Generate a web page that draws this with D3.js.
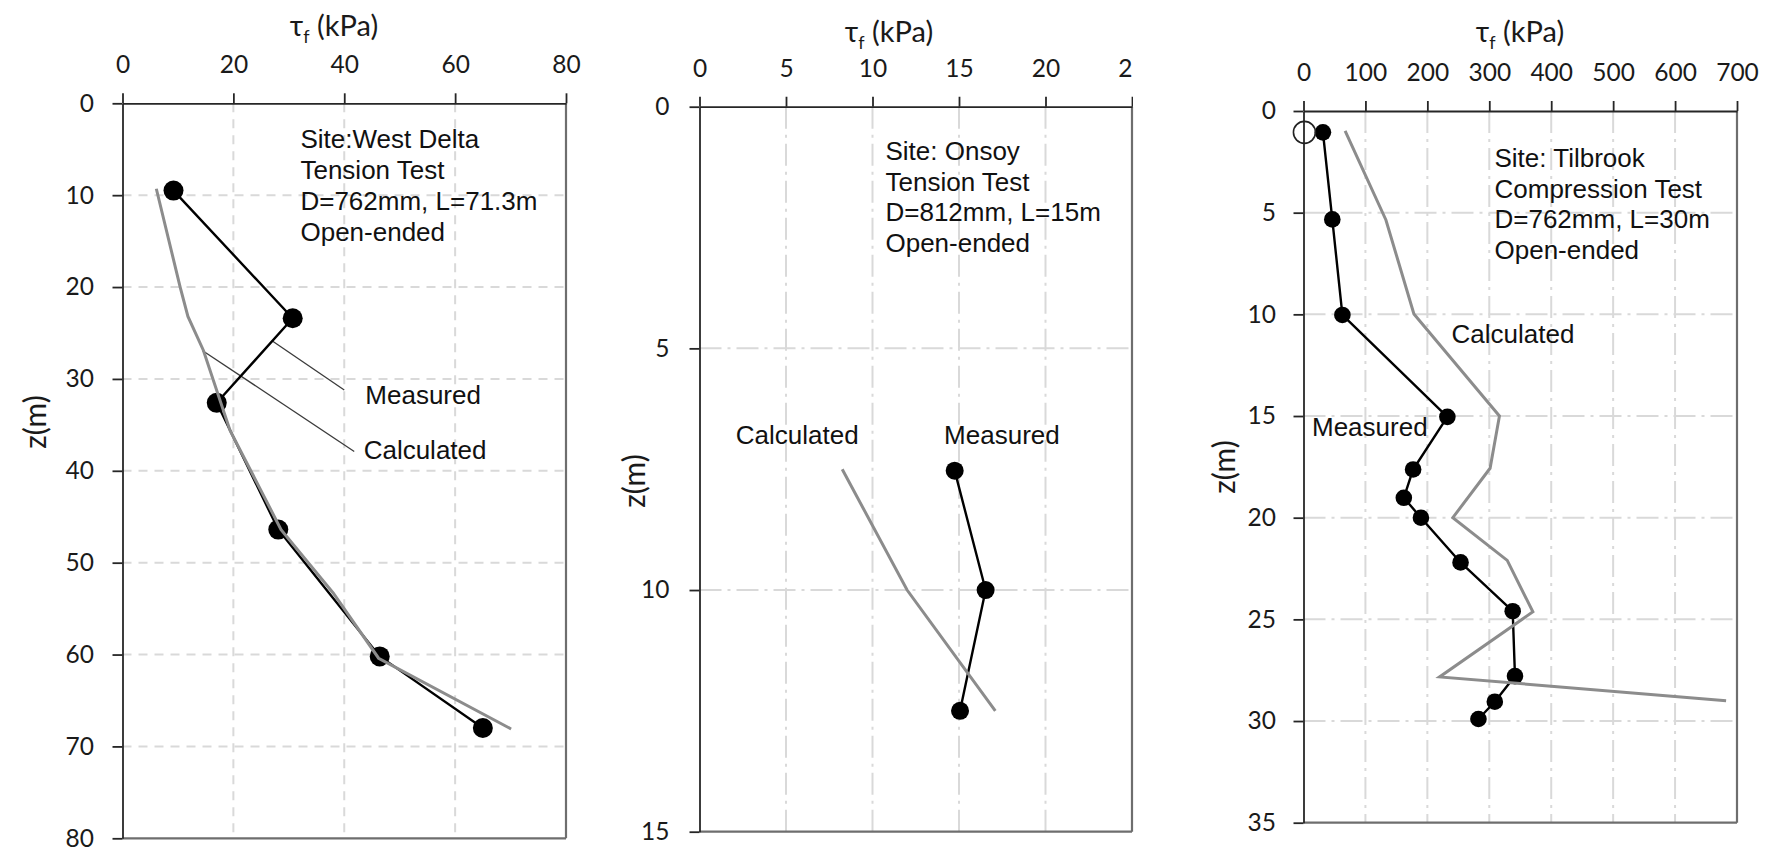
<!DOCTYPE html>
<html>
<head>
<meta charset="utf-8">
<script src="https://cdn.jsdelivr.net/npm/d3@7"></script>
<style>
  body { margin: 0; background: #fff; }
  svg { display: block; }
</style>
</head>
<body>
<svg id="chart" width="1771" height="854"></svg>
<script>
// ---------- West Delta (tension test) ----------
const wdMeasuredTau = [9.2, 30.7, 17.0, 28.1, 46.4, 65.0];
const wdMeasuredZ   = [9.5, 23.4, 32.6, 46.4, 60.2, 68.0];
const wdCalcTau = [6.1, 10.4, 11.8, 14.6, 19.4, 28.6, 38.0, 46.2, 70.1];
const wdCalcZ   = [9.3, 20.0, 23.2, 26.9, 35.6, 46.4, 53.3, 60.4, 68.1];
const wdTauTicks = [0, 20, 40, 60, 80];
const wdTauLabels = ["0", "20", "40", "60", "80"];
const wdZTicks = [0, 10, 20, 30, 40, 50, 60, 70, 80];
const wdNotes = ["Site:West Delta", "Tension Test", "D=762mm, L=71.3m", "Open-ended"];
const wdLeaderMeasured = [[27.1, 25.9], [40.0, 31.2]];
const wdLeaderCalc = [[14.4, 26.9], [41.8, 37.9]];

// ---------- Onsoy (tension test) ----------
const onMeasuredTau = [14.75, 16.54, 15.06];
const onMeasuredZ   = [7.53, 10.0, 12.5];
const onCalcTau = [8.25, 12.0, 17.1];
const onCalcZ   = [7.5, 10.0, 12.5];
const onTauTicks = [0, 5, 10, 15, 20, 25];
const onTauLabels = ["0", "5", "10", "15", "20", "25"];
const onZTicks = [0, 5, 10, 15];
const onNotes = ["Site: Onsoy", "Tension Test", "D=812mm, L=15m", "Open-ended"];

// ---------- Tilbrook (compression test) ----------
const tbMeasuredTau = [31.4, 46.5, 62.8, 232.3, 177.0, 162.0, 189.6, 253.6, 337.8, 341.5, 308.9, 282.5];
const tbMeasuredZ   = [1.05, 5.33, 10.03, 15.04, 17.63, 19.02, 20.0, 22.2, 24.6, 27.79, 29.05, 29.9];
const tbCalcTau = [67.2, 133.1, 178.3, 316.4, 301.3, 241.1, 329.0, 370.4, 219.7, 682.4];
const tbCalcZ   = [0.98, 5.36, 9.98, 15.0, 17.57, 20.0, 22.1, 24.63, 27.83, 29.0];
const tbOpenTau = [1.5];
const tbOpenZ   = [1.05];
const tbTauTicks = [0, 100, 200, 300, 400, 500, 600, 700];
const tbTauLabels = ["0", "100", "200", "300", "400", "500", "600", "700"];
const tbZTicks = [0, 5, 10, 15, 20, 25, 30, 35];
const tbNotes = ["Site: Tilbrook", "Compression Test", "D=762mm, L=30m", "Open-ended"];

const TICK_FONT = "Lato, 'Open Sans', sans-serif";
const NOTE_FONT = "'Liberation Sans', Arial, sans-serif";
const GRID = "#d9d9d9";
const CALC = "#8c8c8c";

const svg = d3.select("#chart");

function drawPanel(cfg) {
  const x = d3.scaleLinear().domain([0, cfg.tauTicks[cfg.tauTicks.length - 1]]).range([cfg.left, cfg.right]);
  const y = d3.scaleLinear().domain([0, cfg.zTicks[cfg.zTicks.length - 1]]).range([cfg.top, cfg.bottom]);
  const g = svg.append("g");

  // grid lines
  g.append("g").selectAll("line").data(cfg.tauTicks.slice(1, -1)).join("line")
    .attr("x1", d => x(d)).attr("x2", d => x(d))
    .attr("y1", cfg.top).attr("y2", cfg.bottom)
    .attr("stroke", GRID).attr("stroke-width", 2).attr("stroke-dasharray", cfg.dash);
  g.append("g").selectAll("line").data(cfg.zTicks.slice(1, -1)).join("line")
    .attr("y1", d => y(d)).attr("y2", d => y(d))
    .attr("x1", cfg.left).attr("x2", cfg.right)
    .attr("stroke", GRID).attr("stroke-width", 2).attr("stroke-dasharray", cfg.dash);

  // bottom and right frame
  g.append("line").attr("x1", cfg.left).attr("x2", cfg.right).attr("y1", cfg.bottom).attr("y2", cfg.bottom)
    .attr("stroke", "#6e6e6e").attr("stroke-width", 2.2);
  g.append("line").attr("x1", cfg.right).attr("x2", cfg.right).attr("y1", cfg.top).attr("y2", cfg.bottom)
    .attr("stroke", "#6e6e6e").attr("stroke-width", 2.2);

  // top axis (shear stress)
  const xAxis = d3.axisTop(x).tickValues(cfg.tauTicks)
    .tickFormat((d, i) => cfg.tauLabels[i]).tickSize(10).tickSizeOuter(0).tickPadding(20);
  const gx = g.append("g").attr("transform", `translate(0,${cfg.top})`).call(xAxis);
  // left axis (depth)
  const yAxis = d3.axisLeft(y).tickValues(cfg.zTicks).tickSize(10).tickSizeOuter(0).tickPadding(cfg.yPad);
  const gy = g.append("g").attr("transform", `translate(${cfg.left},0)`).call(yAxis);

  [gx, gy].forEach(a => {
    a.attr("font-family", TICK_FONT).attr("font-size", 24.5);
    a.select(".domain").attr("stroke", "#262626").attr("stroke-width", 1.8);
    a.selectAll(".tick line").attr("stroke", "#262626").attr("stroke-width", 1.8);
    a.selectAll(".tick text").attr("fill", "#1a1a1a");
  });
  if (cfg.clipLabels) {
    // tick labels are cut at the right edge of the frame
    const id = "clip" + cfg.key;
    svg.append("clipPath").attr("id", id).append("rect")
      .attr("x", 0).attr("y", -cfg.top).attr("width", cfg.right + 1).attr("height", cfg.top + 20);
    gx.attr("clip-path", `url(#${id})`);
  }

  // axis titles
  const t = g.append("text").attr("x", cfg.titleX).attr("y", cfg.titleY)
    .attr("text-anchor", "middle").attr("font-family", TICK_FONT).attr("font-size", 29).attr("fill", "#1a1a1a");
  t.append("tspan").text("τ");
  t.append("tspan").attr("font-size", 18).attr("dy", 7).text("f");
  t.append("tspan").attr("dy", -7).text(" (kPa)");

  g.append("text").attr("transform", `translate(${cfg.zTitleX},${cfg.zTitleY}) rotate(-90)`)
    .attr("text-anchor", "middle").attr("dominant-baseline", "central")
    .attr("font-family", TICK_FONT).attr("font-size", 30).attr("fill", "#1a1a1a").text("z(m)");

  // site notes
  g.append("g").selectAll("text").data(cfg.notes).join("text")
    .attr("x", x(cfg.noteAt[0])).attr("y", (d, i) => y(cfg.noteAt[1]) + i * 30.8)
    .attr("font-family", NOTE_FONT).attr("font-size", 26).attr("fill", "#111").text(d => d);

  // leader lines
  (cfg.leaders || []).forEach(l => {
    g.append("line").attr("x1", x(l[0][0])).attr("y1", y(l[0][1]))
      .attr("x2", x(l[1][0])).attr("y2", y(l[1][1]))
      .attr("stroke", "#3a3a3a").attr("stroke-width", 1.3);
  });
  // series labels
  cfg.labels.forEach(l => {
    g.append("text").attr("x", x(l.at[0])).attr("y", y(l.at[1]))
      .attr("font-family", NOTE_FONT).attr("font-size", 26).attr("fill", "#111").text(l.text);
  });

  const line = d3.line().x(d => x(d[0])).y(d => y(d[1]));
  const meas = d3.zip(cfg.mTau, cfg.mZ);
  const calc = d3.zip(cfg.cTau, cfg.cZ);

  g.append("path").attr("d", line(meas)).attr("fill", "none")
    .attr("stroke", "#000").attr("stroke-width", 2.4).attr("stroke-linejoin", "round");
  g.append("g").selectAll("circle").data(meas).join("circle")
    .attr("cx", d => x(d[0])).attr("cy", d => y(d[1])).attr("r", cfg.r).attr("fill", "#000");
  g.append("path").attr("d", line(calc)).attr("fill", "none")
    .attr("stroke", CALC).attr("stroke-width", 3).attr("stroke-linejoin", "miter");

  if (cfg.open) {
    g.append("g").selectAll("circle").data(d3.zip(cfg.open[0], cfg.open[1])).join("circle")
      .attr("cx", d => x(d[0])).attr("cy", d => y(d[1])).attr("r", 11)
      .attr("fill", "none").attr("stroke", "#222").attr("stroke-width", 1.6);
  }
}

drawPanel({
  key: "wd", left: 122.5, right: 566, top: 103.3, bottom: 838.3, yPad: 18.5,
  dash: "9,7", r: 10,
  tauTicks: wdTauTicks, tauLabels: wdTauLabels, zTicks: wdZTicks,
  titleX: 334, titleY: 36, zTitleX: 34, zTitleY: 422,
  notes: wdNotes, noteAt: [32.1, 4.9],
  leaders: [wdLeaderMeasured, wdLeaderCalc],
  labels: [{ text: "Measured", at: [43.8, 32.7] }, { text: "Calculated", at: [43.5, 38.7] }],
  mTau: wdMeasuredTau, mZ: wdMeasuredZ, cTau: wdCalcTau, cZ: wdCalcZ
});

drawPanel({
  key: "on", left: 699.5, right: 1132, top: 106.7, bottom: 831.7, yPad: 20,
  dash: "22,6,3,6", r: 9, clipLabels: true,
  tauTicks: onTauTicks, tauLabels: onTauLabels, zTicks: onZTicks,
  titleX: 889, titleY: 42, zTitleX: 633, zTitleY: 481,
  notes: onNotes, noteAt: [10.75, 1.10],
  labels: [{ text: "Calculated", at: [2.1, 6.98] }, { text: "Measured", at: [14.14, 6.98] }],
  mTau: onMeasuredTau, mZ: onMeasuredZ, cTau: onCalcTau, cZ: onCalcZ
});

drawPanel({
  key: "tb", left: 1303.5, right: 1737, top: 111, bottom: 822.7, yPad: 17.5,
  dash: "22,6,3,6", r: 8.3,
  tauTicks: tbTauTicks, tauLabels: tbTauLabels, zTicks: tbZTicks,
  titleX: 1520, titleY: 42, zTitleX: 1223, zTitleY: 467,
  notes: tbNotes, noteAt: [308.4, 2.74],
  labels: [{ text: "Calculated", at: [239, 11.43] }, { text: "Measured", at: [13.7, 15.99] }],
  mTau: tbMeasuredTau, mZ: tbMeasuredZ, cTau: tbCalcTau, cZ: tbCalcZ,
  open: [tbOpenTau, tbOpenZ]
});
</script>
</body>
</html>
